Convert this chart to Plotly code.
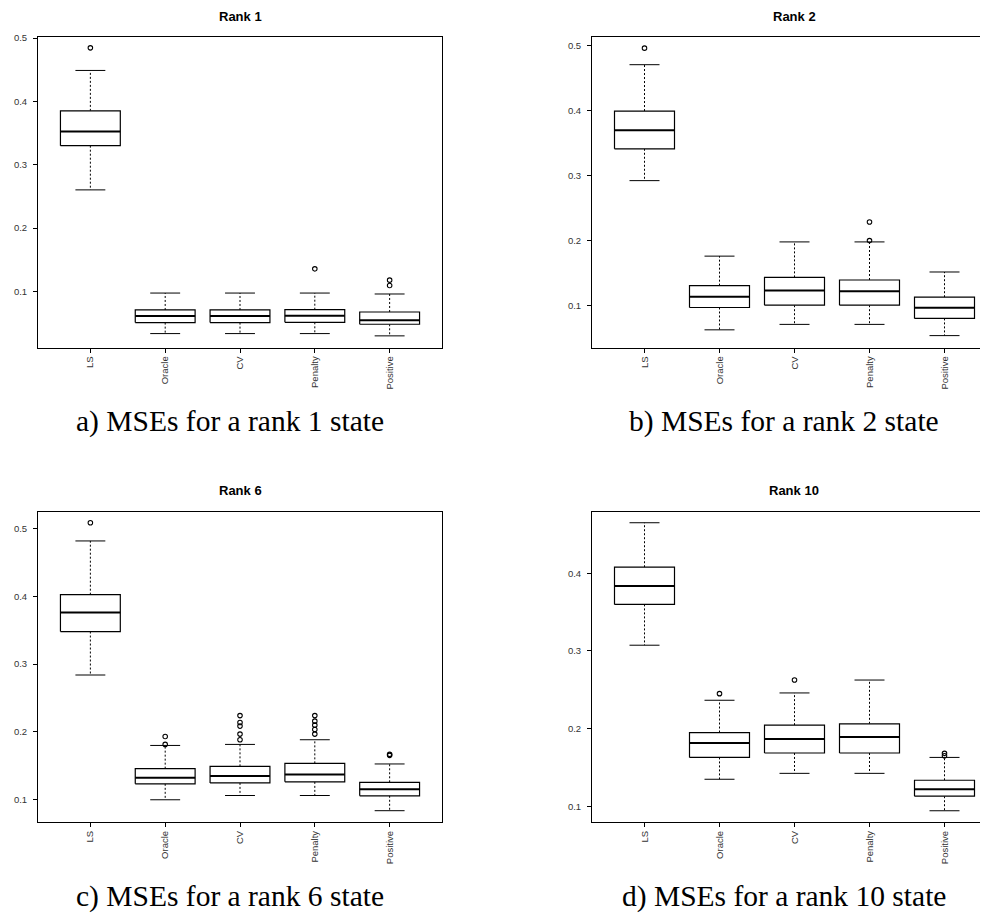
import plotly.graph_objects as go

methods = ["LS", "Oracle", "CV", "Penalty", "Positive"]

# Rank 1
r1_lower = [0.2604, 0.0335, 0.0335, 0.0335, 0.0299]
r1_q1 = [0.3302, 0.0508, 0.0508, 0.0513, 0.0482]
r1_median = [0.3527, 0.0613, 0.0613, 0.0618, 0.0544]
r1_q3 = [0.3852, 0.0708, 0.0708, 0.0712, 0.0676]
r1_upper = [0.4490, 0.0975, 0.0975, 0.0975, 0.0960]
r1_outliers = [[0.4847], [], [], [0.1357], [0.1179, 0.1095]]

# Rank 2
r2_lower = [0.2926, 0.0630, 0.0714, 0.0714, 0.0541]
r2_q1 = [0.3416, 0.0974, 0.1009, 0.1009, 0.0806]
r2_median = [0.3700, 0.1138, 0.1234, 0.1223, 0.0970]
r2_q3 = [0.3997, 0.1310, 0.1437, 0.1397, 0.1132]
r2_upper = [0.4710, 0.1764, 0.1983, 0.1983, 0.1520]
r2_outliers = [[0.4965], [], [], [0.2289, 0.2003], []]

# Rank 6
r6_lower = [0.2839, 0.1000, 0.1063, 0.1063, 0.0839]
r6_q1 = [0.3480, 0.1235, 0.1249, 0.1264, 0.1059]
r6_median = [0.3759, 0.1323, 0.1352, 0.1371, 0.1156]
r6_q3 = [0.4023, 0.1459, 0.1493, 0.1537, 0.1258]
r6_upper = [0.4815, 0.1801, 0.1816, 0.1885, 0.1528]
r6_outliers = [[0.5084], [0.1933, 0.1816], [0.2241, 0.2139, 0.2086, 0.1968, 0.1885],
               [0.2241, 0.2159, 0.2100, 0.2036, 0.1968], [0.1670, 0.1655]]

# Rank 10
r10_lower = [0.3074, 0.1350, 0.1426, 0.1426, 0.0945]
r10_q1 = [0.3599, 0.1631, 0.1688, 0.1688, 0.1132]
r10_median = [0.3834, 0.1816, 0.1867, 0.1892, 0.1222]
r10_q3 = [0.4077, 0.1951, 0.2046, 0.2063, 0.1337]
r10_upper = [0.4649, 0.2366, 0.2460, 0.2626, 0.1631]
r10_outliers = [[], [0.2451], [0.2626], [], [0.1683, 0.1653]]

titles = ["Rank 1", "Rank 2", "Rank 6", "Rank 10"]
captions = ["a) MSEs for a rank 1 state", "b) MSEs for a rank 2 state",
            "c) MSEs for a rank 6 state", "d) MSEs for a rank 10 state"]

panels = [
    (r1_lower, r1_q1, r1_median, r1_q3, r1_upper, r1_outliers),
    (r2_lower, r2_q1, r2_median, r2_q3, r2_upper, r2_outliers),
    (r6_lower, r6_q1, r6_median, r6_q3, r6_upper, r6_outliers),
    (r10_lower, r10_q1, r10_median, r10_q3, r10_upper, r10_outliers),
]

# the page body has an 8px margin: shrink the figure so it ends at 988x913
OFF = 8
W, H = 988 - OFF, 913 - OFF


def px(v):
    return v - OFF


# layout geometry (page pixels)
x_dom_px = [(38, 442), (592, 988), (38, 442), (592, 988)]
y_dom_px = [(33, 345), (33, 345), (510, 821.7), (510, 821.7)]
x_ranges = [[0.3, 5.7], [0.3, 5.58], [0.3, 5.7], [0.3, 5.58]]
y_ranges = [[0.0115, 0.502], [0.0358, 0.5138], [0.0671, 0.5245], [0.0799, 0.479]]
y_ticks = [[0.1, 0.2, 0.3, 0.4, 0.5], [0.1, 0.2, 0.3, 0.4, 0.5],
           [0.1, 0.2, 0.3, 0.4, 0.5], [0.1, 0.2, 0.3, 0.4]]
title_px = [(240, 12.5), (794, 12.5), (240, 489), (794, 489)]
caption_px = [(230, 419), (784, 419), (230, 896), (784, 896)]

BW = 0.4   # half box width
CW = 0.2   # half cap width
LC = "black"
TICK_FONT = dict(family="Liberation Sans, Arial, sans-serif", size=9.5, color="#333")

fig = go.Figure()
layout = dict(width=W, height=H, margin=dict(l=0, r=0, t=0, b=0),
              paper_bgcolor="white", plot_bgcolor="white", showlegend=False,
              annotations=[])

for k, (lo, q1, md, q3, up, outl) in enumerate(panels):
    sx = "" if k == 0 else str(k + 1)
    xref, yref = "x" + sx, "y" + sx
    pos = list(range(1, len(methods) + 1))

    bx, by, mx, my, wx, wy, cx, cy, ox, oy = [], [], [], [], [], [], [], [], [], []
    for i, p in enumerate(pos):
        bx += [p - BW, p + BW, p + BW, p - BW, p - BW, None]
        by += [q1[i], q1[i], q3[i], q3[i], q1[i], None]
        mx += [p - BW, p + BW, None]
        my += [md[i], md[i], None]
        wx += [p, p, None, p, p, None]
        wy += [q3[i], up[i], None, q1[i], lo[i], None]
        cx += [p - CW, p + CW, None, p - CW, p + CW, None]
        cy += [up[i], up[i], None, lo[i], lo[i], None]
        for v in outl[i]:
            ox.append(p)
            oy.append(v)

    common = dict(xaxis=xref, yaxis=yref, hoverinfo="skip", showlegend=False)
    fig.add_trace(go.Scatter(x=wx, y=wy, mode="lines",
                             line=dict(color=LC, width=1, dash="2px,2px"), **common))
    fig.add_trace(go.Scatter(x=cx, y=cy, mode="lines",
                             line=dict(color=LC, width=1), **common))
    fig.add_trace(go.Scatter(x=bx, y=by, mode="lines", fill="toself", fillcolor="white",
                             line=dict(color=LC, width=1.2), **common))
    fig.add_trace(go.Scatter(x=mx, y=my, mode="lines",
                             line=dict(color=LC, width=2), **common))
    fig.add_trace(go.Scatter(x=ox, y=oy, mode="markers",
                             marker=dict(symbol="circle-open", size=4.5, color=LC,
                                         line=dict(width=1.1, color=LC)), **common))

    x0, x1 = x_dom_px[k]
    y0, y1 = y_dom_px[k]
    right_side = k in (1, 3)
    layout["xaxis" + sx] = dict(
        domain=[px(x0) / W, min(1.0, px(x1) / W)], range=x_ranges[k], anchor=yref,
        tickmode="array", tickvals=pos, ticktext=methods, tickangle=-90,
        showline=True, linecolor=LC, linewidth=1, mirror=True,
        ticks="outside", ticklen=4, tickcolor=LC, tickwidth=1,
        showgrid=False, zeroline=False, fixedrange=True,
        tickfont=TICK_FONT,
    )
    layout["yaxis" + sx] = dict(
        domain=[1 - px(y1) / H, 1 - px(y0) / H], range=y_ranges[k], anchor=xref,
        tickmode="array", tickvals=y_ticks[k],
        ticktext=[f"{v:.1f}" for v in y_ticks[k]],
        showline=True, linecolor=LC, linewidth=1, mirror=not right_side,
        ticks="outside", ticklen=4, tickcolor=LC, tickwidth=1,
        showgrid=False, zeroline=False, fixedrange=True,
        ticklabelstandoff=4,
        tickfont=TICK_FONT,
    )

    tx, ty = title_px[k]
    layout["annotations"].append(dict(
        text="<b>" + titles[k] + "</b>", x=px(tx) / W, y=1 - px(ty) / H,
        xref="paper", yref="paper",
        xanchor="center", yanchor="middle", showarrow=False,
        font=dict(family="Liberation Sans, Arial, sans-serif", size=13, color="black")))
    cpx, cpy = caption_px[k]
    layout["annotations"].append(dict(
        text=captions[k], x=px(cpx) / W, y=1 - px(cpy) / H, xref="paper", yref="paper",
        xanchor="center", yanchor="middle", showarrow=False,
        font=dict(family="Liberation Serif, Times New Roman, serif", size=29.5, color="black")))

fig.update_layout(**layout)
fig.write_html("out.html")
